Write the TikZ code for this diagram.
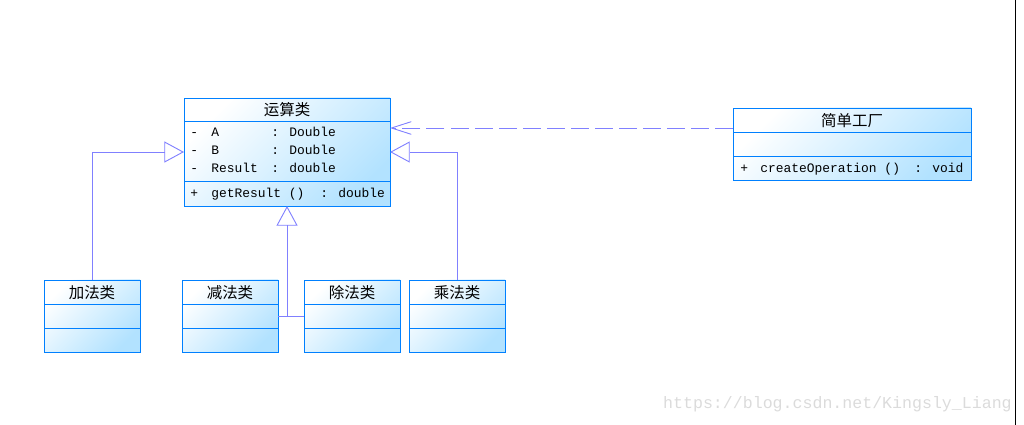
\documentclass[tikz,border=0pt]{standalone}
\usepackage{fontspec}
\usepackage{tikz}
\usetikzlibrary{arrows.meta,positioning,calc}
\newfontfamily\cjkfont{Noto Sans CJK SC}
\newfontfamily\umlmono{Liberation Mono}
\definecolor{umlblue}{RGB}{0,128,255}
\definecolor{umlfill}{RGB}{178,226,255}
\definecolor{linkcol}{RGB}{128,128,255}
\newcommand{\umlattr}[3]{\makebox[0.525cm][l]{#1}\makebox[1.5cm][l]{#2}: #3}

\begin{document}
\begin{tikzpicture}[x=0.025cm, y=-0.025cm,
    cls/.style={draw=umlblue, line width=0.6pt, top color=white, bottom color=umlfill,
      shading angle=45, inner sep=0pt, outer sep=0pt, anchor=north west},
    small/.style={cls, minimum width=2.4cm, minimum height=1.8cm},
    sep/.style={umlblue, line width=0.6pt},
    title/.style={anchor=north, inner sep=0pt, minimum height=0.6cm, font=\cjkfont\fontsize{11}{13}\selectfont},
    member/.style={anchor=base west, inner sep=0pt, font=\umlmono\fontsize{9.2}{11}\selectfont},
    gen/.style={draw=linkcol, line width=0.65pt, -{Triangle[open, length=14pt, width=15pt]}},
    link/.style={draw=linkcol, line width=0.65pt},
    dep/.style={draw=linkcol, line width=0.65pt, dash pattern=on 12.8pt off 4.3pt,
      -{Straight Barb[length=14pt, width=9pt]}}]
\useasboundingbox (0,0) rectangle (1024,425);

% classes
\node[cls, minimum width=5.15cm, minimum height=2.7cm] (calc) at (184,98) {};
\node[cls, minimum width=5.95cm, minimum height=1.8cm] (factory) at (733,108) {};
\node[small] (add) at (44,280) {};
\node[small] (sub) at (182,280) {};
\node[small] (div) at (304,280) {};
\node[small] (mul) at (409,280) {};

% compartments
\draw[sep] ([yshift=-0.575cm]calc.north west) -- ([yshift=-0.575cm]calc.north east);
\draw[sep] ([yshift=-2.075cm]calc.north west) -- ([yshift=-2.075cm]calc.north east);
\foreach \n in {factory,add,sub,div,mul} {
  \draw[sep] ([yshift=-0.6cm]\n.north west) -- ([yshift=-0.6cm]\n.north east);
  \draw[sep] ([yshift=-1.2cm]\n.north west) -- ([yshift=-1.2cm]\n.north east);
}

% titles
\node[title, minimum height=0.575cm] (calc-t) at (calc.north) {运算类};
\node[title] (factory-t) at (factory.north) {简单工厂};
\node[title] (add-t) at (add.north) {加法类};
\node[title] (sub-t) at (sub.north) {减法类};
\node[title] (div-t) at (div.north) {除法类};
\node[title] (mul-t) at (mul.north) {乘法类};

% members
\node[member] (calc-a) at ($(calc.north west)+(6,38.5)$) {\umlattr{-}{A}{Double}};
\node[member] (calc-b) at ($(calc.north west)+(6,56.5)$) {\umlattr{-}{B}{Double}};
\node[member] (calc-r) at ($(calc.north west)+(6,74.5)$) {\umlattr{-}{Result}{double}};
\node[member] (calc-m) at ($(calc.north west)+(6,99.5)$)
  {\makebox[0.525cm][l]{+}\makebox[2.725cm][l]{getResult ()}: double};
\node[member] (factory-m) at ($(factory.north west)+(7,65)$)
  {\makebox[0.5cm][l]{+}\makebox[3.85cm][l]{createOperation ()}: void};

% relations
\draw[dep] ([yshift=-0.5cm]factory.north west) -- ([yshift=-0.5cm]factory.north west -| calc.east);
\draw[gen] (add.north) |- ([yshift=-1.35cm]calc.north west);
\draw[gen] (mul.north) |- ([yshift=-1.35cm]calc.north east);
\coordinate (join) at (calc.south |- sub.east);
\draw[link] (sub.east) -- (div.west);
\draw[gen] (join) -- (calc.south);

% frame edge and watermark
\coordinate (edge-top) at (1015.5,0);
\coordinate (edge-bot) at (1015.5,425);
\draw[black, line width=0.8pt] (edge-top) -- (edge-bot);
\node[anchor=east, inner sep=0pt, text=black!14, font=\umlmono\fontsize{11.8}{13}\selectfont]
  (mark) at (1012,404) {https://blog.csdn.net/Kingsly\_Liang};
\end{tikzpicture}
\end{document}
